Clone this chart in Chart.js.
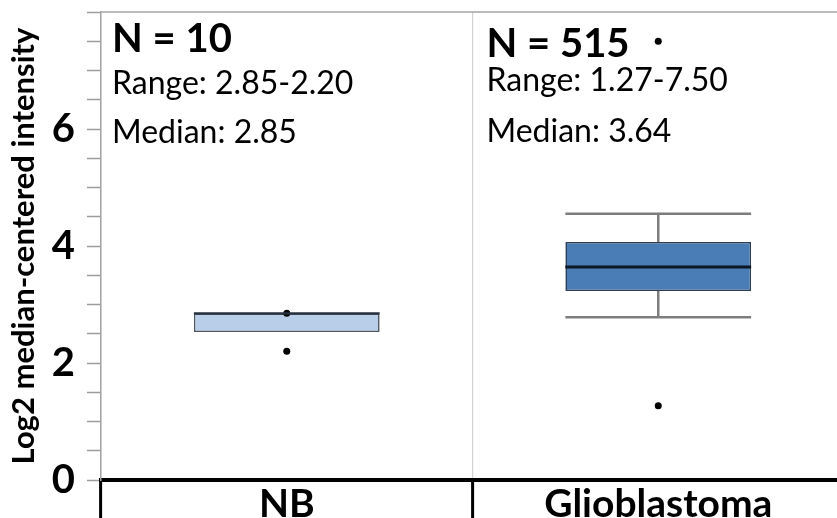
<!DOCTYPE html>
<html>
<head>
<meta charset="utf-8">
<script src="https://cdn.jsdelivr.net/npm/chart.js@4.4.1/dist/chart.umd.min.js"></script>
<style>
  html, body { margin: 0; padding: 0; background: #fff; overflow: hidden; }
  #wrap { position: relative; width: 848px; height: 518px; }
</style>
</head>
<body>
<div id="wrap"><canvas id="c" width="848" height="518"></canvas></div>
<script>
// ---- data ----
const categories   = ['NB', 'Glioblastoma'];
const sampleCounts = [10, 515];
const q1           = [2.53, 3.23];
const q3           = [2.85, 4.07];
const medians      = [2.85, 3.64];
const whiskerLow   = [null, 2.78];
const whiskerHigh  = [null, 4.55];
const rangeFirst   = [2.85, 1.27];
const rangeSecond  = [2.20, 7.50];
const outlierValues = [[2.85, 2.20], [7.50, 1.27]];
const yTickLabels  = [0, 2, 4, 6];

// ---- styles ----
const boxFill   = ['#b9cfe9', '#4a7db5'];
const boxEdge   = ['#50565e', '#2c3f55'];
const medianCol = ['#26323f', '#0c1724'];
const FONT = 'Lato, "Open Sans", sans-serif';

const outlierPoints = [];
outlierValues.forEach((vals, i) => vals.forEach(v => outlierPoints.push({ x: categories[i], y: v })));

// the closing boundary line on the right (scale context, no tick index) stays undrawn
const isRightEdge = c => c.type !== 'tick' || c.index >= categories.length;

// whiskers, medians and plot frame drawn through the chart's scales
const boxExtras = {
  id: 'boxExtras',
  beforeDatasetsDraw(chart) {
    const { ctx, scales: { y } } = chart;
    const bars = chart.getDatasetMeta(0).data;
    ctx.save();
    ctx.strokeStyle = '#7d7d7d';
    ctx.lineWidth = 2.5;
    categories.forEach((c, i) => {
      if (whiskerLow[i] == null) return;
      const bar = bars[i];
      const cx = bar.x, half = bar.width / 2;
      const yl = y.getPixelForValue(whiskerLow[i]);
      const yh = y.getPixelForValue(whiskerHigh[i]);
      const yq1 = y.getPixelForValue(q1[i]);
      const yq3 = y.getPixelForValue(q3[i]);
      ctx.beginPath();
      ctx.moveTo(cx, yq1); ctx.lineTo(cx, yl);
      ctx.moveTo(cx, yq3); ctx.lineTo(cx, yh);
      ctx.moveTo(cx - half, yl); ctx.lineTo(cx + half, yl);
      ctx.moveTo(cx - half, yh); ctx.lineTo(cx + half, yh);
      ctx.stroke();
    });
    ctx.restore();
  },
  afterDatasetsDraw(chart) {
    const { ctx, chartArea, scales: { y } } = chart;
    const bars = chart.getDatasetMeta(0).data;
    ctx.save();
    categories.forEach((c, i) => {
      const bar = bars[i];
      const half = bar.width / 2;
      const ym = y.getPixelForValue(medians[i]);
      ctx.strokeStyle = medianCol[i];
      ctx.lineWidth = i === 0 ? 2.2 : 3;
      ctx.beginPath();
      ctx.moveTo(bar.x - half, ym);
      ctx.lineTo(bar.x + half, ym);
      ctx.stroke();
    });
    // top edge of the plot frame
    ctx.strokeStyle = '#a4a4a4';
    ctx.lineWidth = 1.5;
    ctx.beginPath();
    ctx.moveTo(chartArea.left, chartArea.top);
    ctx.lineTo(chartArea.right + 10, chartArea.top);
    ctx.stroke();
    ctx.restore();
  }
};

// per-panel summary text (N, range, median)
const panelText = {
  id: 'panelText',
  afterDraw(chart) {
    const { ctx, scales: { x } } = chart;
    const colW = (x.right - x.left) / categories.length;
    const layout = [
      { dx: 11, n: 52, r: 94, m: 143 },
      { dx: 14, n: 57, r: 91, m: 142 }
    ];
    ctx.save();
    ctx.fillStyle = '#000';
    ctx.textAlign = 'left';
    ctx.textBaseline = 'alphabetic';
    categories.forEach((c, i) => {
      const left = x.getPixelForValue(i) - colW / 2 + layout[i].dx;
      ctx.font = 'bold 40px ' + FONT;
      ctx.fillText('N = ' + sampleCounts[i], left, layout[i].n);
      ctx.font = '32px ' + FONT;
      ctx.fillText('Range: ' + rangeFirst[i].toFixed(2) + '-' + rangeSecond[i].toFixed(2), left, layout[i].r);
      ctx.fillText('Median: ' + medians[i].toFixed(2), left, layout[i].m);
    });
    ctx.restore();
  }
};

function draw() {
  new Chart(document.getElementById('c'), {
    type: 'bar',
    data: {
      labels: categories,
      datasets: [
        {
          type: 'bar',
          data: categories.map((c, i) => [q1[i], q3[i]]),
          backgroundColor: boxFill,
          borderColor: boxEdge,
          borderWidth: 1.6,
          borderSkipped: false,
          barPercentage: 0.5,
          categoryPercentage: 1,
          order: 2
        },
        {
          type: 'line',
          data: outlierPoints,
          showLine: false,
          pointRadius: 3.5,
          pointBackgroundColor: '#000',
          pointBorderWidth: 0,
          order: 1
        }
      ]
    },
    options: {
      responsive: false,
      animation: false,
      layout: { padding: { top: 12, left: 0, right: 0, bottom: 0 } },
      plugins: { legend: { display: false }, tooltip: { enabled: false } },
      scales: {
        x: {
          offset: true,
          grid: {
            offset: true,
            color: c => (isRightEdge(c) ? 'rgba(0,0,0,0)' : '#d2d2d2'),
            lineWidth: 1.2,
            tickColor: c => (isRightEdge(c) ? 'rgba(0,0,0,0)' : '#000'),
            tickWidth: 3,
            tickLength: 38
          },
          border: { display: true, color: '#000', width: 4 },
          ticks: {
            font: { family: FONT, weight: 'bold', size: 39 },
            color: '#000',
            padding: -37,
            maxRotation: 0,
            autoSkip: false
          },
          afterFit(s) {
            s.height = 38;
            s.paddingLeft = 0;
            s.paddingRight = 0;
          }
        },
        y: {
          min: 0,
          max: 8,
          ticks: {
            stepSize: 0.5,
            autoSkip: false,
            callback: v => (yTickLabels.includes(v) ? String(v) : ''),
            font: { family: FONT, weight: 'bold', size: 40 },
            color: '#000',
            padding: 12
          },
          grid: {
            drawOnChartArea: false,
            tickLength: 14,
            tickColor: '#9c9c9c',
            tickWidth: 1.5
          },
          border: { display: true, color: '#a4a4a4', width: 1.5 },
          title: {
            display: true,
            text: 'Log2 median-centered intensity',
            font: { family: FONT, weight: 'bold', size: 31 },
            color: '#000',
            padding: { top: 5, bottom: 0 }
          },
          afterFit(s) {
            s.width = 101;
            s.paddingTop = 0;
            s.paddingBottom = 0;
          }
        }
      }
    },
    plugins: [boxExtras, panelText]
  });
}

if (document.fonts && document.fonts.load) {
  Promise.all([
    document.fonts.load('bold 40px Lato'),
    document.fonts.load('32px Lato')
  ]).then(draw, draw);
} else {
  draw();
}
</script>
</body>
</html>
